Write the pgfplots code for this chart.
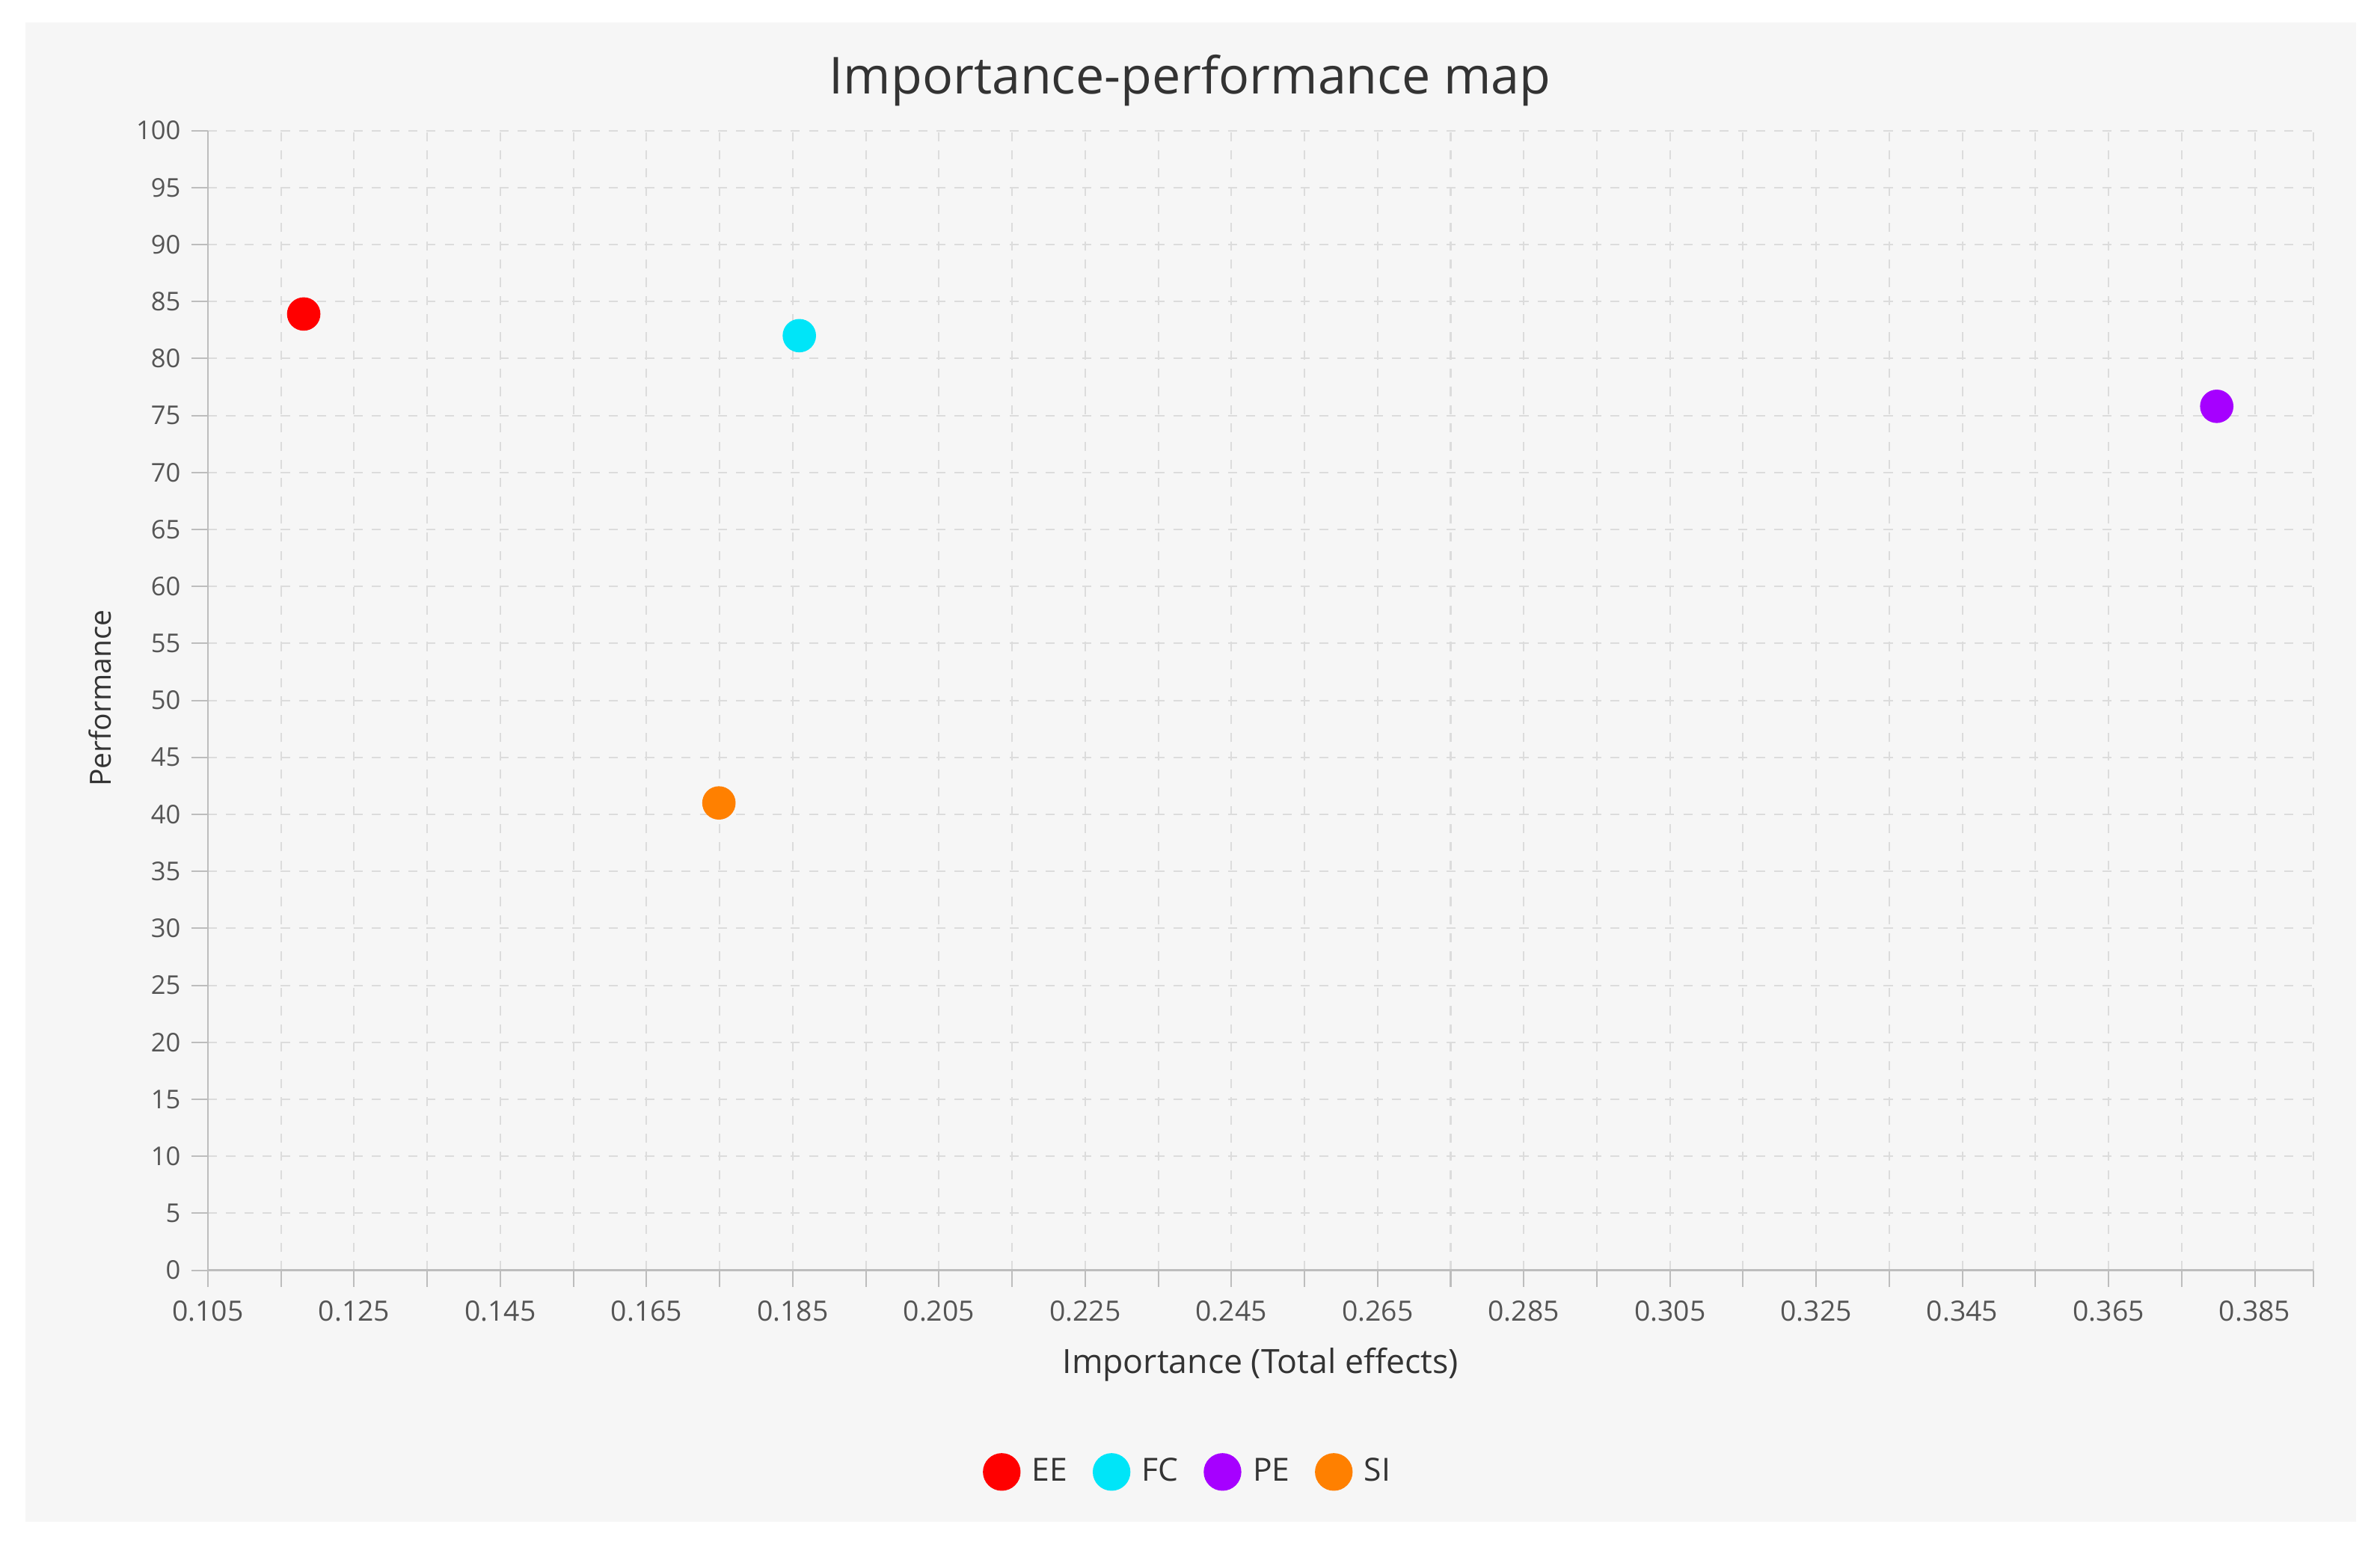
\documentclass[border=0pt]{standalone}
\usepackage{fontspec}
\setmainfont{Open Sans}
\usepackage{pgfplots}
\pgfplotsset{compat=1.18}
\definecolor{panel}{HTML}{F6F6F6}
\definecolor{axisgray}{HTML}{BDBDBD}
\definecolor{gridgray}{HTML}{DCDCDC}
\definecolor{ticktext}{HTML}{555555}
\definecolor{titletext}{HTML}{333333}
\definecolor{cEE}{HTML}{FF0000}
\definecolor{cFC}{HTML}{00E5F8}
\definecolor{cPE}{HTML}{A600FF}
\definecolor{cSI}{HTML}{FF8000}

\begin{document}
\begin{tikzpicture}
% page and panel background
\fill[white] (-68.5pt,-90.5pt) rectangle (715.5pt,418.5pt);
\fill[panel] (-60pt,-83pt) rectangle (707.5pt,411pt);
\begin{axis}[
  scale only axis,
  width=693.5pt, height=375.5pt,
  xmin=0.105, xmax=0.393,
  ymin=0, ymax=100,
  axis x line*=bottom, axis y line*=left,
  axis line style={-, draw=axisgray, line width=0.6pt},
  xtick={0.105,0.125,0.145,0.165,0.185,0.205,0.225,0.245,0.265,0.285,0.305,0.325,0.345,0.365,0.385},
  xticklabels={0.105,0.125,0.145,0.165,0.185,0.205,0.225,0.245,0.265,0.285,0.305,0.325,0.345,0.365,0.385},
  minor xtick={0.115,0.135,0.155,0.175,0.195,0.215,0.235,0.255,0.275,0.295,0.315,0.335,0.355,0.375,0.393},
  ytick={0,5,...,100},
  tick align=outside,
  major tick length=5.5pt, minor tick length=5.5pt,
  tick style={draw=axisgray, line width=0.5pt},
  grid=both,
  major grid style={draw=gridgray, dashed, line width=0.5pt},
  minor grid style={draw=gridgray, dashed, line width=0.5pt},
  /pgf/number format/assume math mode=true,
  tick label style={font=\fontsize{8.5}{10}\selectfont, text=ticktext},
  xticklabel style={yshift=-1pt, font=\fontsize{9.2}{11}\selectfont},
  title={Importance-performance map},
  title style={at={(axis description cs:0.4665,1.028)}, anchor=center,
    font=\fontsize{16.8}{20}\selectfont, text=titletext},
  xlabel={Importance (Total effects)},
  xlabel style={at={(axis description cs:0.5,-0.0825)}, anchor=center,
    font=\fontsize{11}{13}\selectfont, text=titletext},
  ylabel={Performance},
  ylabel style={at={(axis description cs:-0.0512,0.502)}, anchor=center,
    font=\fontsize{9.6}{12}\selectfont, text=titletext},
  legend style={at={(axis description cs:0.4665,-0.177)}, anchor=center,
    draw=none, fill=none, legend columns=-1,
    font=\fontsize{10.5}{12}\selectfont, text=titletext,
    /tikz/every odd column/.append style={column sep=2pt},
    /tikz/every even column/.append style={column sep=6.5pt}},
  legend image code/.code={\draw[#1, mark size=6pt] plot coordinates {(0.1cm,0cm)};},
  clip=false,
]
\addplot[only marks, mark=*, mark size=5.3pt, draw=cEE, fill=cEE] coordinates {(0.1181,83.9)};
\addlegendentry{EE}
\addplot[only marks, mark=*, mark size=5.3pt, draw=cFC, fill=cFC] coordinates {(0.1859,82.0)};
\addlegendentry{FC}
\addplot[only marks, mark=*, mark size=5.3pt, draw=cPE, fill=cPE] coordinates {(0.3798,75.8)};
\addlegendentry{PE}
\addplot[only marks, mark=*, mark size=5.3pt, draw=cSI, fill=cSI] coordinates {(0.1749,41.0)};
\addlegendentry{SI}
\end{axis}
\end{tikzpicture}
\end{document}
